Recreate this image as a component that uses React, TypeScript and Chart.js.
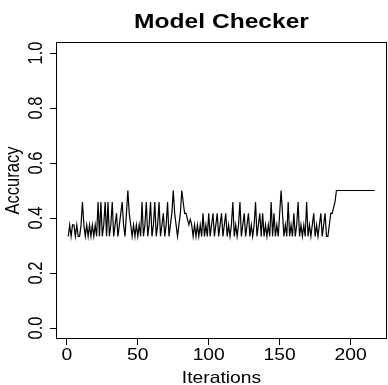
import React, { useEffect, useRef } from "react";
import { Chart, registerables } from "chart.js";

Chart.register(...registerables);

// ---- data ----
const chartTitle = "Model Checker";
const xAxisTitle = "Iterations";
const yAxisTitle = "Accuracy";
const xTickValues = [0, 50, 100, 150, 200];
const xTickLabels = ["0", "50", "100", "150", "200"];
const yTickValues = [0, 0.2, 0.4, 0.6, 0.8, 1.0];
const yTickLabels = ["0.0", "0.2", "0.4", "0.6", "0.8", "1.0"];
const xRange = [-7.64, 225.64];
const yRange = [-0.04, 1.04];

const accuracy = [
  0.3333, 0.375, 0.3333, 0.375, 0.375, 0.3333, 0.375, 0.3333, 0.3333, 0.375,
  0.4583, 0.375, 0.3333, 0.375, 0.3333, 0.375, 0.3333, 0.375, 0.3333, 0.375,
  0.3333, 0.4583, 0.3333, 0.4583, 0.3333, 0.375, 0.4583, 0.3333, 0.4583, 0.3333,
  0.375, 0.4583, 0.3333, 0.375, 0.4167, 0.3333, 0.375, 0.4167, 0.4583, 0.375,
  0.3333, 0.4167, 0.5, 0.4167, 0.375, 0.3333, 0.375, 0.3333, 0.375, 0.3333,
  0.375, 0.3333, 0.4583, 0.3333, 0.375, 0.4583, 0.3333, 0.375, 0.4583, 0.3333,
  0.375, 0.4583, 0.3333, 0.375, 0.4583, 0.3333, 0.375, 0.4167, 0.3333, 0.375,
  0.4583, 0.3333, 0.375, 0.4167, 0.5, 0.4167, 0.375, 0.3333, 0.375, 0.4167,
  0.5, 0.4583, 0.4167, 0.4167, 0.3958, 0.375, 0.3958, 0.375, 0.3333, 0.375,
  0.3333, 0.375, 0.3333, 0.375, 0.3333, 0.4167, 0.3333, 0.375, 0.3333, 0.4167,
  0.3333, 0.375, 0.4167, 0.3333, 0.375, 0.4167, 0.3333, 0.375, 0.4167, 0.3333,
  0.375, 0.4167, 0.3333, 0.375, 0.3333, 0.375, 0.4583, 0.3333, 0.375, 0.3333,
  0.375, 0.4583, 0.3333, 0.375, 0.4167, 0.3333, 0.375, 0.4167, 0.3333, 0.375,
  0.3333, 0.375, 0.4583, 0.3333, 0.375, 0.4167, 0.3333, 0.4167, 0.3333, 0.375,
  0.3333, 0.375, 0.3333, 0.4583, 0.3333, 0.4167, 0.3333, 0.375, 0.3333, 0.4167,
  0.5, 0.4167, 0.3333, 0.375, 0.3333, 0.4583, 0.3333, 0.375, 0.3333, 0.4167,
  0.3333, 0.375, 0.4583, 0.3333, 0.375, 0.3333, 0.375, 0.3333, 0.4583, 0.3333,
  0.375, 0.3333, 0.375, 0.4167, 0.3333, 0.375, 0.3333, 0.375, 0.4167, 0.3333,
  0.375, 0.4167, 0.3333, 0.3333, 0.375, 0.4167, 0.4167, 0.4375, 0.4583, 0.5,
  0.5, 0.5, 0.5, 0.5, 0.5, 0.5, 0.5, 0.5, 0.5, 0.5,
  0.5, 0.5, 0.5, 0.5, 0.5, 0.5, 0.5, 0.5, 0.5, 0.5,
  0.5, 0.5, 0.5, 0.5, 0.5, 0.5, 0.5,
];

// ---- style ----
const FONT = '"Liberation Sans", Arial, Helvetica, sans-serif';
const SX = 1.17;
const AXIS_FONT = `16.5px ${FONT}`;
const TITLE_FONT = `bold 21px ${FONT}`;

function drawText(ctx: CanvasRenderingContext2D, text: string, x: number, y: number, rotated: boolean) {
  ctx.save();
  ctx.translate(x, y);
  if (rotated) {
    ctx.rotate(-Math.PI / 2);
    ctx.scale(1, SX);
  } else {
    ctx.scale(SX, 1);
  }
  ctx.fillText(text, 0, 0);
  ctx.restore();
}

const rStylePlugin = {
  id: "rStyle",
  afterDraw(chart: any) {
    const ctx: CanvasRenderingContext2D = chart.ctx;
    const ca = chart.chartArea;
    const xs = chart.scales.x;
    const ys = chart.scales.y;
    ctx.save();
    ctx.strokeStyle = "#000";
    ctx.lineWidth = 1;
    ctx.strokeRect(
      Math.round(ca.left) + 0.5,
      Math.round(ca.top) + 0.5,
      Math.round(ca.right - ca.left) - 1,
      Math.round(ca.bottom - ca.top) - 1
    );
    ctx.fillStyle = "#000";
    ctx.textAlign = "center";
    ctx.textBaseline = "alphabetic";
    ctx.font = AXIS_FONT;
    xTickValues.forEach((v, i) => {
      drawText(ctx, xTickLabels[i], xs.getPixelForValue(v), ca.bottom + 20.5, false);
    });
    drawText(ctx, xAxisTitle, (ca.left + ca.right) / 2, ca.bottom + 43.5, false);
    yTickValues.forEach((v, i) => {
      drawText(ctx, yTickLabels[i], ca.left - 14.5, ys.getPixelForValue(v), true);
    });
    drawText(ctx, yAxisTitle, ca.left - 37, (ca.top + ca.bottom) / 2 - 10, true);
    ctx.font = TITLE_FONT;
    drawText(ctx, chartTitle, (ca.left + ca.right) / 2, 28, false);
    ctx.restore();
  },
};

export default function App() {
  const canvasRef = useRef<HTMLCanvasElement | null>(null);

  useEffect(() => {
    const canvas = canvasRef.current;
    if (!canvas) return;
    const points = accuracy.map((v, i) => ({ x: i + 1, y: v }));
    const chart = new Chart(canvas, {
      type: "line",
      data: {
        datasets: [
          {
            data: points,
            borderColor: "#000",
            borderWidth: 1.2,
            pointRadius: 0,
            tension: 0,
            fill: false,
          },
        ],
      },
      options: {
        animation: false,
        responsive: false,
        devicePixelRatio: 1,
        layout: { padding: { top: 42, right: 1, left: 0, bottom: 0 } },
        plugins: {
          legend: { display: false },
          tooltip: { enabled: false },
          title: { display: false },
        },
        scales: {
          x: {
            type: "linear",
            min: xRange[0],
            max: xRange[1],
            afterBuildTicks: (s: any) => {
              s.ticks = xTickValues.map((v) => ({ value: v }));
            },
            afterFit: (s: any) => {
              s.height = 46;
            },
            ticks: { display: false },
            border: { display: false },
            grid: {
              drawOnChartArea: false,
              drawTicks: true,
              tickLength: 6,
              color: "#000",
              lineWidth: 1,
            },
          },
          y: {
            type: "linear",
            min: yRange[0],
            max: yRange[1],
            afterBuildTicks: (s: any) => {
              s.ticks = yTickValues.map((v) => ({ value: v }));
            },
            afterFit: (s: any) => {
              s.width = 56;
            },
            ticks: { display: false },
            border: { display: false },
            grid: {
              drawOnChartArea: false,
              drawTicks: true,
              tickLength: 6,
              color: "#000",
              lineWidth: 1,
            },
          },
        },
      },
      plugins: [rStylePlugin],
    } as any);
    return () => chart.destroy();
  }, []);

  return (
    <div style={{ position: "fixed", left: 0, top: 0, width: 388, height: 385, background: "#fff" }}>
      <canvas ref={canvasRef} width={388} height={385} />
    </div>
  );
}
